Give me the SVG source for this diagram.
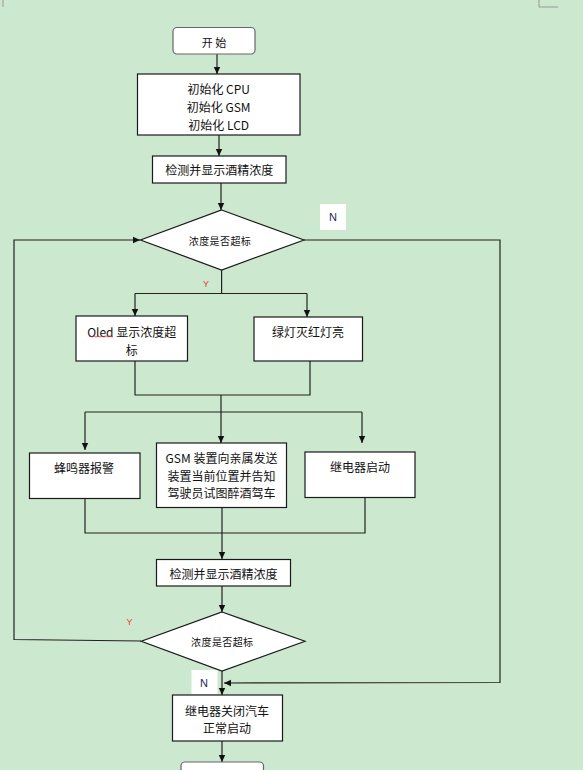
<svg xmlns="http://www.w3.org/2000/svg" width="583" height="770" viewBox="0 0 583 770">
<style>
  .bg{fill:#CCE8CF}
  .box{fill:#fff;stroke:#1a1a1a;stroke-width:1.2}
  .rbox{fill:#fff;stroke:#666;stroke-width:1.2}
  .t{font-family:"Noto Sans CJK SC","Liberation Sans",sans-serif;font-size:12px;fill:#111;text-anchor:middle;dominant-baseline:central}
  .ts{font-size:10px;letter-spacing:0.4px}
  .tst{font-size:11px}
  .c{fill:none;stroke:#222;stroke-width:1.2}
  .lab{font-family:"Liberation Sans","Noto Sans CJK SC",sans-serif;text-anchor:middle;dominant-baseline:central}
  .y{font-size:9px;fill:#E8402A}
  .n{font-size:11px;fill:#1F2A5A}
  .crop{fill:none;stroke:#999;stroke-width:1}
</style>
<defs>
  <marker id="ah" markerWidth="8" markerHeight="8" refX="7" refY="4" orient="auto" markerUnits="userSpaceOnUse">
    <path d="M0,0.8 L7,4 L0,7.2 z" fill="#111"/>
  </marker>
</defs>
<rect class="bg" x="0" y="0" width="583" height="770"/>
<path class="crop" d="M3,0 V7 M539,0 V7 H558"/>

<g id="connectors">
  <line class="c" x1="217" y1="54" x2="217" y2="74" marker-end="url(#ah)"/>
  <line class="c" x1="219" y1="135" x2="219" y2="156" marker-end="url(#ah)"/>
  <line class="c" x1="221" y1="183" x2="221" y2="210" marker-end="url(#ah)"/>
  <polyline class="c" points="221.6,270 221.6,293.5"/>
  <polyline class="c" points="135,293.5 307,293.5"/>
  <line class="c" x1="135" y1="293.5" x2="135" y2="316" marker-end="url(#ah)"/>
  <line class="c" x1="307" y1="293.5" x2="307" y2="317" marker-end="url(#ah)"/>
  <polyline class="c" points="135,361 135,395 310,395 310,361"/>
  <line class="c" x1="221" y1="395" x2="221" y2="443" marker-end="url(#ah)"/>
  <polyline class="c" points="85,412 362,412"/>
  <line class="c" x1="85" y1="412" x2="85" y2="450" marker-end="url(#ah)"/>
  <line class="c" x1="362" y1="412" x2="362" y2="443" marker-end="url(#ah)"/>
  <polyline class="c" points="85,498 85,533 365,533 365,497"/>
  <line class="c" x1="222" y1="507" x2="222" y2="559" marker-end="url(#ah)"/>
  <line class="c" x1="222" y1="586" x2="222" y2="612" marker-end="url(#ah)"/>
  <polyline class="c" points="141,641 14,639.5 14,240 140,240" marker-end="url(#ah)"/>
  <polyline class="c" points="304,240 500,240 500,682.5 224,683" marker-end="url(#ah)"/>
  <line class="c" x1="222" y1="671" x2="222" y2="695" marker-end="url(#ah)"/>
  <line class="c" x1="222" y1="741" x2="222" y2="762" marker-end="url(#ah)"/>
</g>

<g id="start">
  <rect class="rbox" x="173" y="27.5" width="82" height="26.5" rx="4"/>
  <text class="t tst" x="214" y="41.5">开 始</text>
</g>

<g id="init">
  <rect class="box" x="137.5" y="74" width="162.5" height="61"/>
  <text class="t" x="218.7" y="88">初始化 CPU</text>
  <text class="t" x="218.7" y="106">初始化 GSM</text>
  <text class="t" x="218.7" y="124">初始化 LCD</text>
</g>

<g id="detect1">
  <rect class="box" x="152.5" y="156" width="133.5" height="27"/>
  <text class="t" x="219.2" y="169.5">检测并显示酒精浓度</text>
</g>

<g id="decision1">
  <polygon class="box" points="221.6,210 304,240 221.6,270 140.5,240"/>
  <text class="t ts" x="220" y="240">浓度是否超标</text>
</g>

<g id="oled">
  <rect class="box" x="76" y="316" width="111.5" height="45"/>
  <text class="t" x="131.7" y="331">Oled 显示浓度超</text>
  <text class="t" x="131.7" y="349">标</text>
  <path d="M89,336.5 q1,-1.2 2,0 t2,0 t2,0 t2,0 t2,0 t2,0 t2,0 t2,0 t2,0 t2,0 t2,0 t2,0" fill="none" stroke="#E53030" stroke-width="0.8"/>
</g>

<g id="lights">
  <rect class="box" x="254" y="317" width="108.5" height="44"/>
  <text class="t" x="308" y="331.5">绿灯灭红灯亮</text>
</g>

<g id="buzzer">
  <rect class="box" x="29.5" y="453" width="110.5" height="45.5"/>
  <text class="t" x="84" y="467">蜂鸣器报警</text>
</g>

<g id="gsm">
  <rect class="box" x="156.5" y="443" width="130" height="64.5"/>
  <text class="t" x="221.5" y="457.5">GSM 装置向亲属发送</text>
  <text class="t" x="221.5" y="475.5">装置当前位置并告知</text>
  <text class="t" x="221.5" y="492.5">驾驶员试图醉酒驾车</text>
</g>

<g id="relay">
  <rect class="box" x="305" y="452" width="110" height="45.5"/>
  <text class="t" x="360" y="466.5">继电器启动</text>
</g>

<g id="detect2">
  <rect class="box" x="156.5" y="559.5" width="134" height="26.5"/>
  <text class="t" x="223.5" y="573">检测并显示酒精浓度</text>
</g>

<g id="decision2">
  <polygon class="box" points="222,612 305,641.3 222,671 141.3,641.3"/>
  <text class="t ts" x="222.3" y="641">浓度是否超标</text>
</g>

<g id="close">
  <rect class="box" x="172.5" y="695" width="110" height="46"/>
  <text class="t" x="227" y="710">继电器关闭汽车</text>
  <text class="t" x="227" y="727.5">正常启动</text>
</g>

<g id="end">
  <rect class="rbox" x="181" y="762" width="82.5" height="26.5" rx="4"/>
  <text class="t tst" x="222.3" y="776">结 束</text>
</g>

<g id="labels">
  <rect x="320" y="204" width="26" height="26" fill="#fff"/>
  <text class="lab n" x="333" y="217">N</text>
  <text class="lab y" x="206" y="284">Y</text>
  <text class="lab y" x="129.5" y="622">Y</text>
  <rect x="191.5" y="670" width="26" height="24" fill="#fff"/>
  <text class="lab n" x="204" y="682.5">N</text>
</g>
</svg>
